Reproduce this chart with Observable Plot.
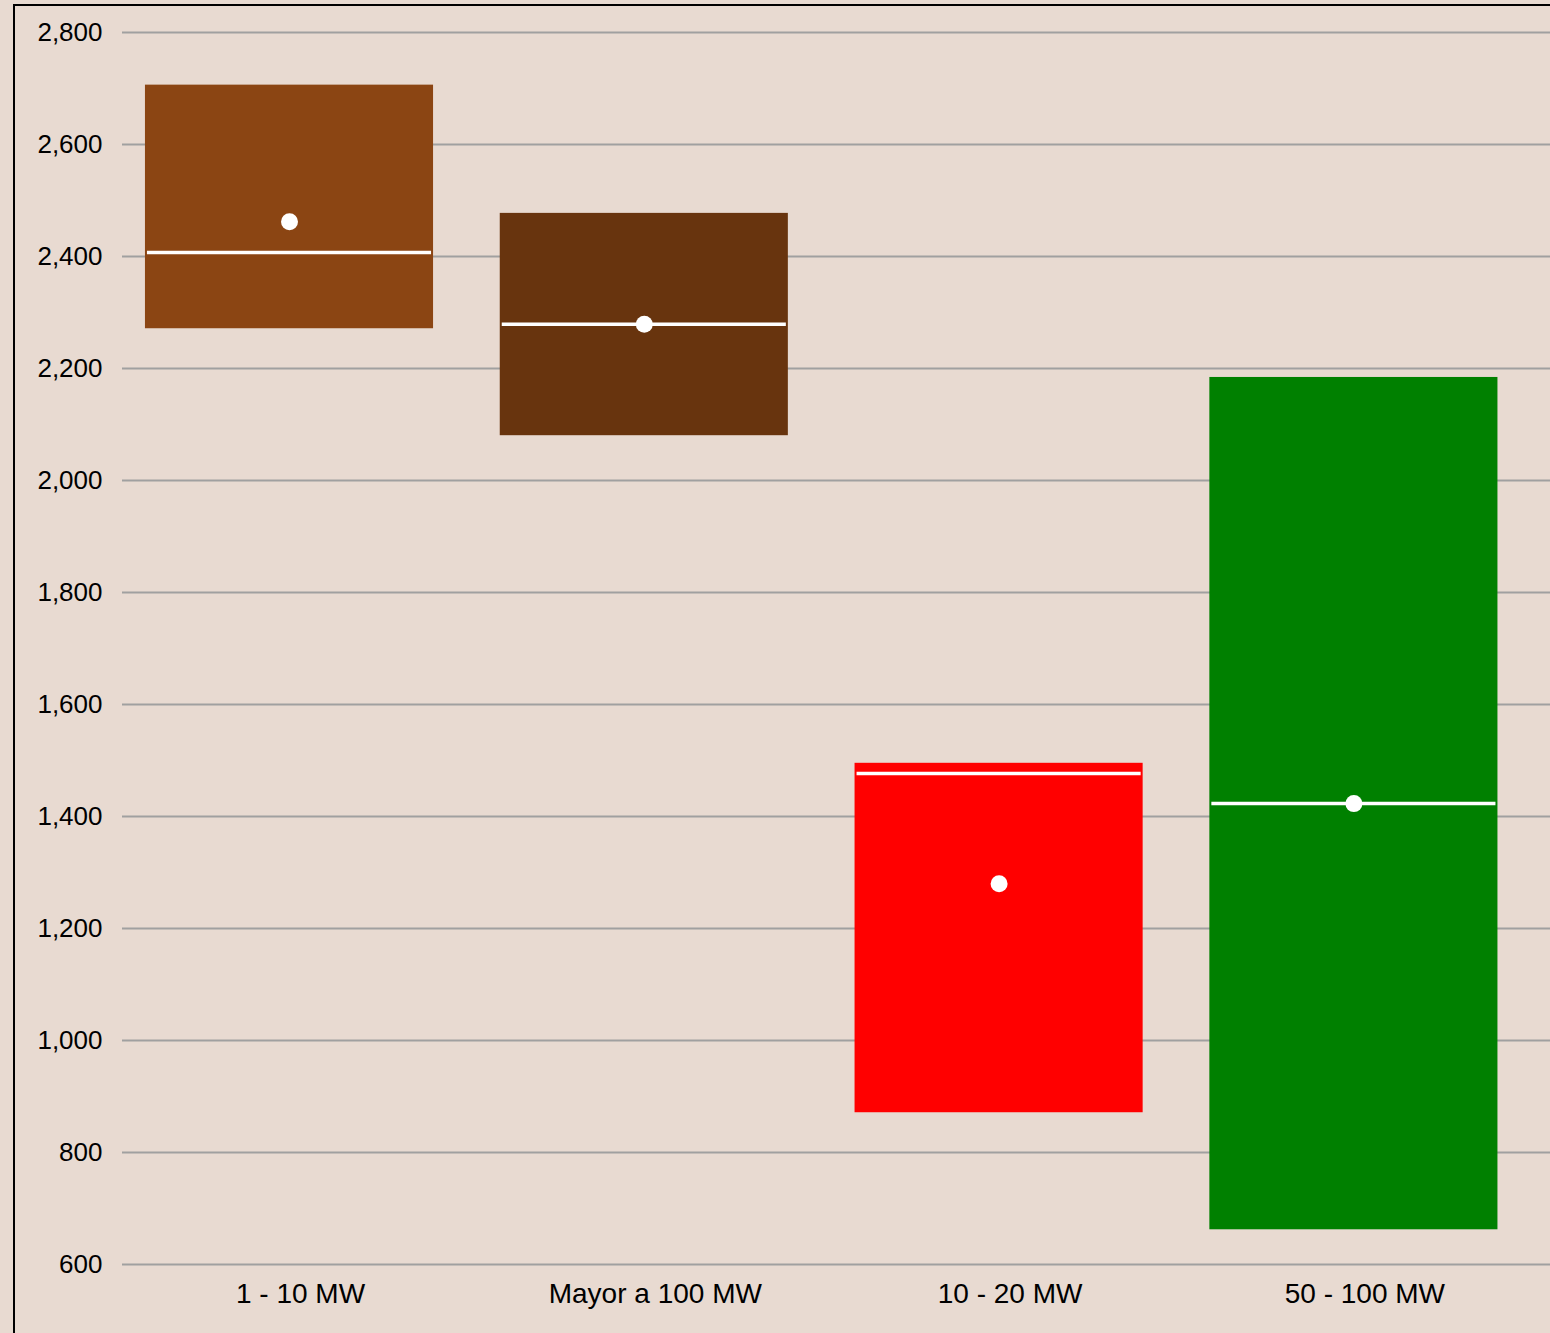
<!DOCTYPE html>
<html>
<head>
<meta charset="utf-8">
<script src="https://cdn.jsdelivr.net/npm/d3@7"></script>
<script src="https://cdn.jsdelivr.net/npm/@observablehq/plot@0.6"></script>
<style>
  html, body { margin: 0; padding: 0; background: #E8DAD1; width: 1550px; height: 1333px; overflow: hidden; }
  #wrap { position: absolute; left: 13px; top: 4px; border-left: 2px solid #000; border-top: 2px solid #000; }
  #wrap svg { display: block; background: #E8DAD1; }
</style>
</head>
<body>
<div id="wrap"></div>
<script>
const categories = ["1 - 10 MW", "Mayor a 100 MW", "10 - 20 MW", "50 - 100 MW"];
const lowValues = [2271, 2080, 871, 662];
const highValues = [2706, 2477, 1495, 2184];
const medianValues = [2407, 2279, 1477, 1423];
const meanValues = [2462, 2279, 1280, 1423];
const colors = ["#8B4513", "#68340E", "#FF0000", "#008000"];
const yTicks = [600, 800, 1000, 1200, 1400, 1600, 1800, 2000, 2200, 2400, 2600, 2800];

const data = categories.map((c, i) => ({
  cat: c, low: lowValues[i], high: highValues[i], median: medianValues[i], mean: meanValues[i], color: colors[i]
}));

const W = 1535, H = 1327;
const step = 354.8;
const c0 = 274;
const chart = Plot.plot({
  width: W,
  height: H,
  marginLeft: 107,
  marginRight: 0,
  marginTop: 26,
  marginBottom: 69,
  style: { fontFamily: "'Liberation Sans', Arial, sans-serif", fontSize: "26px", color: "#000", background: "#E8DAD1" },
  x: { domain: categories, range: [c0 - step / 2, c0 + 3.5 * step], paddingInner: 0.188, paddingOuter: 0.094, round: false },
  y: { domain: [600, 2800] },
  marks: [
    Plot.gridY(yTicks, { stroke: "#A0A0A0", strokeOpacity: 1, strokeWidth: 2 }),
    Plot.axisY(yTicks, { tickSize: 0, tickPadding: 20, tickFormat: d3.format(","), fontSize: 26, label: null }),
    Plot.axisX({ tickSize: 0, tickPadding: 19, dx: 11, fontSize: 28, label: null }),
    Plot.barY(data, { x: "cat", y1: "low", y2: "high", fill: "color" }),
    Plot.tickY(data, { x: "cat", y: "median", stroke: "white", strokeWidth: 3.5, inset: 2 }),
    Plot.dot(data, { x: "cat", y: "mean", r: 8.5, fill: "white", stroke: "none" })
  ]
});
document.getElementById("wrap").appendChild(chart);
</script>
</body>
</html>
